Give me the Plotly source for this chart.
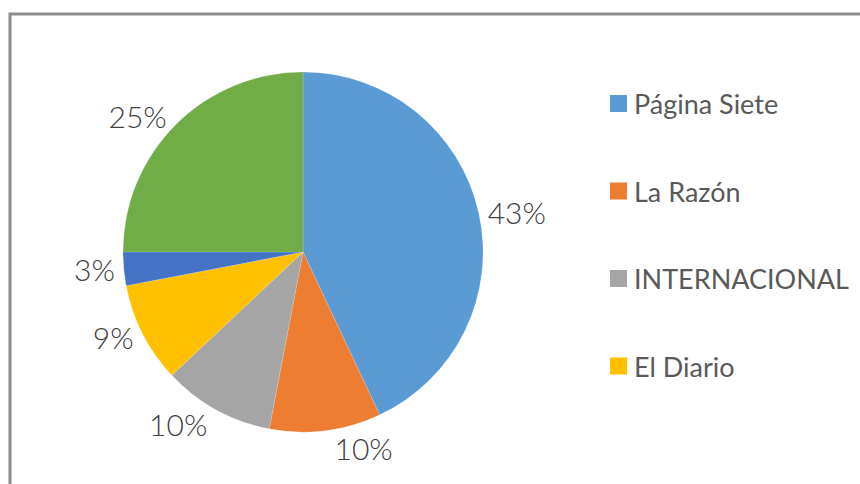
import plotly.graph_objects as go

# ---- data ----
labels = ["Página Siete", "La Razón", "INTERNACIONAL", "El Diario", "Opinión", "Otros"]
values = [43, 10, 10, 9, 3, 25]
colors = ["#5B9BD5", "#ED7D31", "#A5A5A5", "#FFC000", "#4472C4", "#70AD47"]
legend_count = 4  # only the first four entries are visible in the legend

W, H = 860, 484

def px_x(x):
    return x / W

def px_y(y):
    return 1 - y / H

fig = go.Figure()
fig.add_trace(go.Pie(
    labels=labels,
    values=values,
    sort=False,
    direction="clockwise",
    rotation=0,
    marker=dict(colors=colors, line=dict(color="rgba(255,255,255,0.3)", width=0.5)),
    textposition="outside",
    texttemplate="%{percent:.0%}",
    textfont=dict(family="Lato", size=30, color="#404040", weight=300),
    showlegend=False,
    hole=0,
    domain=dict(x=[px_x(123), px_x(483)], y=[px_y(432), px_y(72)]),
    automargin=False,
))

shapes = [
    # outer chart frame (cropped at right and bottom)
    dict(type="rect", xref="paper", yref="paper",
         x0=px_x(10), x1=px_x(880), y0=px_y(500), y1=px_y(14),
         line=dict(color="#8C8C8C", width=3), fillcolor="rgba(0,0,0,0)", layer="below"),
]
annotations = []
row_y0, row_gap = 103.5, 87.5
for i in range(legend_count):
    cy = row_y0 + i * row_gap
    shapes.append(dict(type="rect", xref="paper", yref="paper",
                       x0=px_x(610), x1=px_x(627), y0=px_y(cy + 8.5), y1=px_y(cy - 8.5),
                       line=dict(width=0), fillcolor=colors[i]))
    annotations.append(dict(xref="paper", yref="paper", x=px_x(632), y=px_y(cy),
                            xanchor="left", yanchor="middle", showarrow=False,
                            text=labels[i],
                            font=dict(family="Lato", size=27, color="#595959")))

fig.update_layout(
    width=W, height=H,
    margin=dict(l=0, r=0, t=0, b=0),
    paper_bgcolor="white",
    plot_bgcolor="white",
    shapes=shapes,
    annotations=annotations,
    showlegend=False,
)

fig.write_html("out.html")
